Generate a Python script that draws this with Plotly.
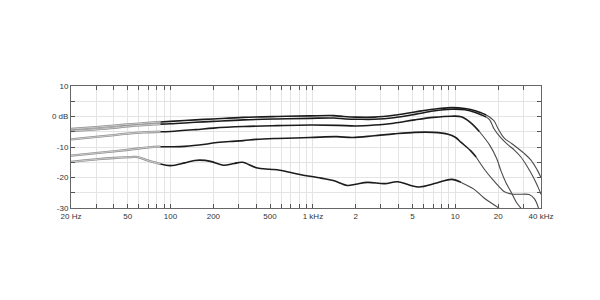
import plotly.graph_objects as go

# ---------------- data ----------------
f1 = [20, 30, 40, 50, 65, 85, 100, 150, 200, 325, 560, 950, 1400, 1650, 2000, 2700, 3700, 5200, 7000,
      9400, 11700, 14000, 16500, 18600, 20000, 22000, 24800, 27500, 30300, 34000, 37600, 40000]
db1 = [-4.1, -3.5, -3.0, -2.6, -2.2, -1.8, -1.6, -1.1, -0.8, -0.3, 0.0, 0.2, 0.3, 0.0, -0.2, -0.2, 0.4, 1.5, 2.4,
       2.9, 2.6, 1.8, 0.5, -1.3, -4.0, -7.0, -8.8, -10.4, -12.0, -14.3, -17.5, -20.0]

f2 = [20, 30, 40, 50, 65, 85, 100, 150, 200, 325, 560, 950, 1400, 1700, 2100, 2700, 3700, 5200, 7000,
      9400, 11700, 14000, 16500, 17500, 18800, 21000, 23500, 26000, 28800, 32000, 35700, 38000, 40000]
db2 = [-4.8, -4.2, -3.7, -3.2, -2.8, -2.5, -2.4, -1.9, -1.6, -1.1, -0.8, -0.6, -0.5, -0.8, -0.9, -0.9, -0.4, 0.7, 1.8,
       2.4, 2.2, 1.2, -0.2, -1.2, -4.2, -7.1, -9.3, -11.0, -13.2, -16.4, -20.3, -23.0, -25.5]

f3 = [20, 30, 40, 50, 65, 85, 100, 150, 200, 325, 560, 950, 1500, 2000, 2700, 3700, 5200, 7000, 9400,
      11000, 12800, 14800, 17400, 19500, 21000, 22800, 24800, 27000, 29500]
db3 = [-7.5, -6.7, -6.1, -5.6, -5.2, -5.0, -4.9, -4.3, -3.8, -3.3, -3.0, -2.8, -2.9, -3.1, -2.8, -2.2, -1.1, -0.3, 0.1,
       -0.1, -2.0, -5.0, -9.3, -13.7, -18.0, -21.9, -25.0, -28.3, -30.5]

f4 = [20, 30, 40, 53, 70, 85, 100, 126, 175, 205, 261, 325, 400, 560, 950, 1470, 1900, 2700, 3700, 5200,
      7000, 8900, 10000, 11000, 12800, 14000, 16000, 18400, 20300, 22000, 24800, 28000, 33000, 36000, 38500]
db4 = [-12.8, -12.0, -11.4, -10.8, -10.1, -9.9, -9.9, -9.8, -9.1, -8.6, -8.2, -7.9, -7.5, -7.2, -6.9, -6.6, -6.9, -6.3, -5.7, -5.2,
       -5.2, -5.8, -6.8, -8.5, -11.2, -13.3, -17.3, -20.8, -23.0, -24.6, -25.4, -25.5, -25.6, -27.0, -30.2]

f5 = [20, 31, 40, 53, 59, 70, 85, 100, 126, 148, 175, 194, 235, 280, 320, 400, 500, 585, 810, 1140, 1390,
      1740, 2000, 2420, 3200, 3930, 5500, 7400, 9400, 11000, 13500, 16000, 18800, 20500]
db5 = [-14.9, -14.0, -13.6, -13.3, -13.3, -14.5, -15.6, -16.1, -15.2, -14.4, -14.4, -14.8, -16.0, -15.4, -15.0, -16.8, -17.3, -17.6, -19.0, -20.2, -21.0,
       -22.6, -22.2, -21.6, -22.0, -21.4, -23.1, -21.8, -20.6, -21.6, -23.8, -26.8, -29.0, -30.2]

curves = [(f1, db1, 16500), (f2, db2, 16500), (f3, db3, 14800), (f4, db4, 14000), (f5, db5, 11000)]
low_end = 85  # below this frequency the traces are drawn in grey

x_tick_vals = [20, 30, 40, 50, 60, 70, 80, 90,
               100, 200, 300, 400, 500, 600, 700, 800, 900,
               1000, 2000, 3000, 4000, 5000, 6000, 7000, 8000, 9000,
               10000, 20000, 30000, 40000]
x_tick_labels = {20: "20 Hz", 50: "50", 100: "100", 200: "200", 500: "500", 1000: "1 kHz",
                 2000: "2", 5000: "5", 10000: "10", 20000: "20", 40000: "40 kHz"}
y_tick_vals = [-30, -25, -20, -15, -10, -5, 0, 5, 10]
y_tick_labels = {-30: "-30", -20: "-20", -10: "-10", 0: "0 dB", 10: "10"}

# ---------------- figure ----------------
fig = go.Figure()
for f, d, hi in curves:
    i_low = f.index(low_end)
    i_hi = f.index(hi)
    lf, ld = f[:i_low + 1], d[:i_low + 1]
    mf, md = f[i_low:i_hi + 1], d[i_low:i_hi + 1]
    hf, hd = f[i_hi:], d[i_hi:]
    # low-frequency part: double grey line look
    fig.add_trace(go.Scatter(x=lf, y=ld, mode="lines", line=dict(color="#909090", width=2.3, shape="spline"),
                             hoverinfo="skip"))
    fig.add_trace(go.Scatter(x=lf, y=ld, mode="lines", line=dict(color="#e4e4e4", width=0.7, shape="spline"),
                             hoverinfo="skip"))
    fig.add_trace(go.Scatter(x=mf, y=md, mode="lines", line=dict(color="#1c1c1c", width=1.6, shape="spline"),
                             hoverinfo="skip"))
    fig.add_trace(go.Scatter(x=hf, y=hd, mode="lines", line=dict(color="#4a4a4a", width=1.1, shape="spline"),
                             hoverinfo="skip"))

fig.update_layout(
    width=600, height=300,
    margin=dict(l=71, r=59, t=86, b=92),
    paper_bgcolor="white", plot_bgcolor="white",
    showlegend=False,
    font=dict(family="Liberation Sans, Arial, sans-serif", size=8, color="#333333"),
    xaxis=dict(
        type="log", range=[1.30103, 4.60206],
        tickmode="array", tickvals=x_tick_vals,
        ticktext=[x_tick_labels.get(v, "") for v in x_tick_vals],
        showgrid=True, gridcolor="#e4e4e4", gridwidth=1,
        ticks="inside", ticklen=4, tickcolor="#555555", tickwidth=1,
        showline=True, linecolor="#666666", linewidth=1, mirror="ticks",
        zeroline=False, tickangle=0,
    ),
    yaxis=dict(
        range=[-30, 10],
        tickmode="array", tickvals=y_tick_vals,
        ticktext=[y_tick_labels.get(v, "") for v in y_tick_vals],
        showgrid=True, gridcolor="#e4e4e4", gridwidth=1,
        ticks="inside", ticklen=4, tickcolor="#555555", tickwidth=1,
        showline=True, linecolor="#666666", linewidth=1, mirror="ticks",
        zeroline=False,
    ),
)

fig.write_html("out.html")
